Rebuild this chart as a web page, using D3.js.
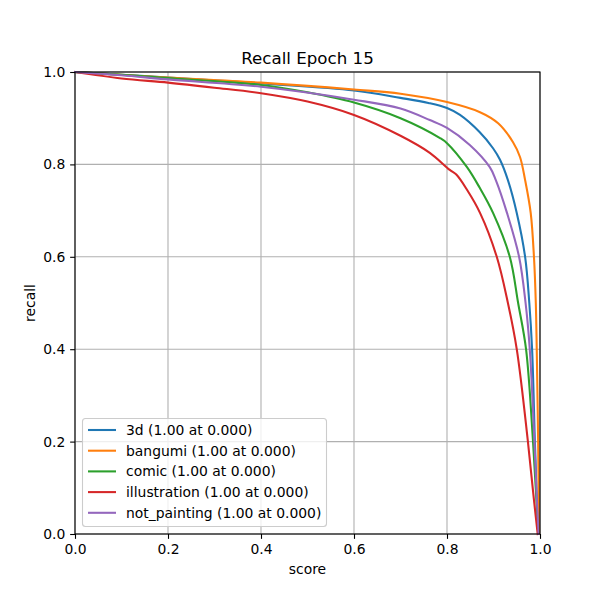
<!DOCTYPE html>
<html><head><meta charset="utf-8">
<script src="https://cdn.jsdelivr.net/npm/d3@7"></script>
<style>body{margin:0;background:#fff}text{font-family:"DejaVu Sans",sans-serif;fill:#000}</style>
</head><body><svg id="c" width="600" height="600"></svg>
<script>
const seriesNames = ["3d (1.00 at 0.000)", "bangumi (1.00 at 0.000)", "comic (1.00 at 0.000)", "illustration (1.00 at 0.000)", "not_painting (1.00 at 0.000)"];
const seriesColors = ["#1f77b4", "#ff7f0e", "#2ca02c", "#d62728", "#9467bd"];
const x3d = [0, 0.1, 0.2, 0.4, 0.6, 0.7, 0.76, 0.8, 0.828, 0.87, 0.899, 0.914, 0.931, 0.95, 0.968, 0.977, 0.983, 0.989, 0.993, 0.997];
const y3d = [1, 0.994, 0.988, 0.975, 0.960, 0.944, 0.933, 0.922, 0.907, 0.87, 0.835, 0.810, 0.766, 0.695, 0.6, 0.5, 0.4, 0.2, 0.08, 0];
const xBangumi = [0, 0.1, 0.2, 0.4, 0.6, 0.7, 0.8, 0.871, 0.91, 0.942, 0.957, 0.968, 0.980, 0.987, 0.991, 0.993, 0.996, 0.998];
const yBangumi = [1, 0.994, 0.988, 0.977, 0.962, 0.953, 0.935, 0.913, 0.889, 0.848, 0.816, 0.766, 0.695, 0.6, 0.5, 0.4, 0.2, 0];
const xComic = [0, 0.1, 0.2, 0.4, 0.5, 0.6, 0.7, 0.785, 0.8, 0.843, 0.870, 0.899, 0.935, 0.953, 0.970, 0.985, 0.992, 0.996];
const yComic = [1, 0.994, 0.987, 0.972, 0.956, 0.934, 0.900, 0.857, 0.846, 0.794, 0.750, 0.695, 0.6, 0.5, 0.4, 0.2, 0.08, 0];
const xIllustration = [0, 0.1, 0.2, 0.3, 0.4, 0.5, 0.6, 0.7, 0.763, 0.806, 0.82, 0.843, 0.871, 0.907, 0.931, 0.950, 0.974, 0.987, 0.995];
const yIllustration = [1, 0.986, 0.977, 0.966, 0.954, 0.936, 0.907, 0.862, 0.825, 0.788, 0.778, 0.745, 0.695, 0.6, 0.5, 0.4, 0.2, 0.074, 0];
const xNotPainting = [0, 0.1, 0.2, 0.4, 0.6, 0.7, 0.763, 0.8, 0.849, 0.892, 0.905, 0.929, 0.955, 0.969, 0.978, 0.988, 0.993, 0.997];
const yNotPainting = [1, 0.993, 0.984, 0.968, 0.940, 0.921, 0.896, 0.879, 0.842, 0.794, 0.766, 0.695, 0.6, 0.5, 0.4, 0.2, 0.08, 0];
const xTicks = [0, 0.2, 0.4, 0.6, 0.8, 1.0];
const yTicks = [0, 0.2, 0.4, 0.6, 0.8, 1.0];

const seriesX = [x3d, xBangumi, xComic, xIllustration, xNotPainting];
const seriesY = [y3d, yBangumi, yComic, yIllustration, yNotPainting];

const svg = d3.select("#c");
const L = 75, R = 540, T = 72, B = 534;
const x = d3.scaleLinear().domain([0, 1]).range([L, R]);
const y = d3.scaleLinear().domain([0, 1]).range([B, T]);
const fs = 13.9;

// grid
const g = svg.append("g");
g.selectAll(".gx").data(xTicks).join("line")
  .attr("x1", d => x(d)).attr("x2", d => x(d)).attr("y1", T).attr("y2", B)
  .attr("stroke", "#b0b0b0").attr("stroke-width", 1.1);
g.selectAll(".gy").data(yTicks).join("line")
  .attr("y1", d => y(d)).attr("y2", d => y(d)).attr("x1", L).attr("x2", R)
  .attr("stroke", "#b0b0b0").attr("stroke-width", 1.1);

// lines
const line = d3.line().x(d => x(d[0])).y(d => y(d[1])).curve(d3.curveCatmullRom.alpha(0.5));
seriesX.forEach((xs, i) => {
  svg.append("path").datum(xs.map((v, j) => [v, seriesY[i][j]]))
    .attr("d", line).attr("fill", "none").attr("stroke", seriesColors[i])
    .attr("stroke-width", 2.08).attr("stroke-linejoin", "round").attr("stroke-linecap", "square");
});

// axes
const xa = svg.append("g").attr("transform", `translate(0,${B})`)
  .call(d3.axisBottom(x).tickValues(xTicks).tickFormat(d3.format(".1f")).tickSize(4.86).tickPadding(4.86));
const ya = svg.append("g").attr("transform", `translate(${L},0)`)
  .call(d3.axisLeft(y).tickValues(yTicks).tickFormat(d3.format(".1f")).tickSize(4.86).tickPadding(4.86));
[xa, ya].forEach(a => {
  a.select(".domain").remove();
  a.selectAll("line").attr("stroke", "#000").attr("stroke-width", 1.1);
  a.selectAll("text").attr("font-size", fs).attr("font-family", "DejaVu Sans");
});

// spines
svg.append("rect").attr("x", L).attr("y", T).attr("width", R - L).attr("height", B - T)
  .attr("fill", "none").attr("stroke", "#000").attr("stroke-width", 1.1);

// labels
svg.append("text").attr("x", (L + R) / 2).attr("y", 63.5).attr("text-anchor", "middle")
  .attr("font-size", 16.67).text("Recall Epoch 15");
svg.append("text").attr("x", (L + R) / 2).attr("y", 574).attr("text-anchor", "middle")
  .attr("font-size", fs).text("score");
svg.append("text").attr("transform", `translate(35,${(T + B) / 2}) rotate(-90)`).attr("text-anchor", "middle")
  .attr("font-size", fs).text("recall");

// legend
const lg = svg.append("g");
lg.append("rect").attr("x", 82.5).attr("y", 418.5).attr("width", 244).attr("height", 108)
  .attr("rx", 3).attr("fill", "#fff").attr("fill-opacity", 0.8).attr("stroke", "#cccccc").attr("stroke-width", 1.1);
seriesNames.forEach((n, i) => {
  const yy = 430 + i * 20.7;
  lg.append("line").attr("x1", 88).attr("x2", 116).attr("y1", yy).attr("y2", yy)
    .attr("stroke", seriesColors[i]).attr("stroke-width", 2.08);
  lg.append("text").attr("x", 126).attr("y", yy).attr("dy", "0.36em").attr("font-size", fs).text(n);
});
</script></body></html>
